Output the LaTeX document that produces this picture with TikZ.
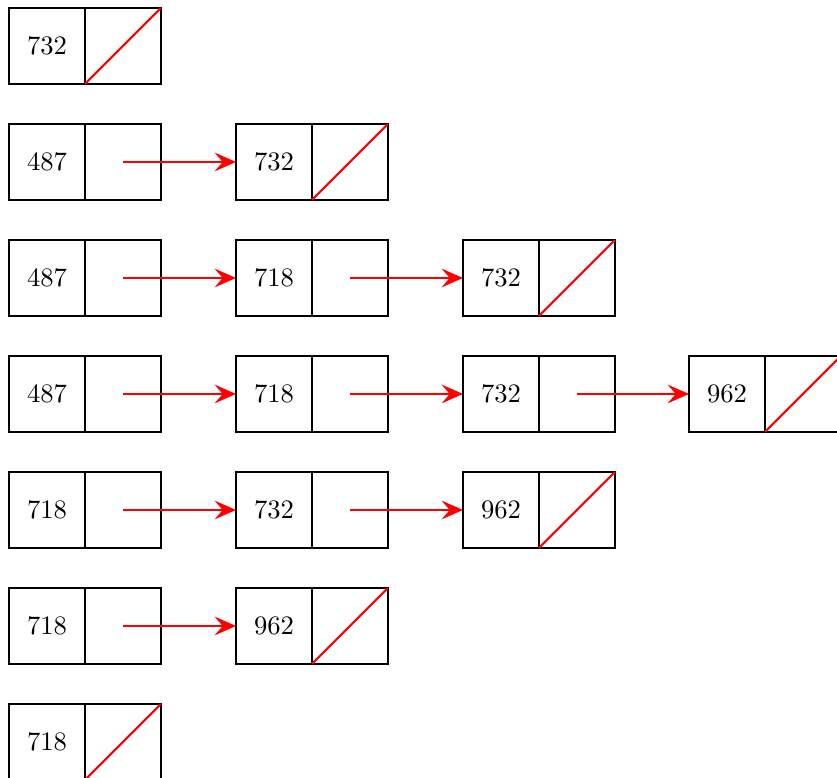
\documentclass[tikz,border=0pt]{standalone}
\usetikzlibrary{arrows.meta}
% one list element: a value cell and its pointer cell to the right
\newcommand\listelem[4]{%
  \node[cell] (#1v) at (#2,#3) {#4};
  \node[cell,xshift=28.55pt] (#1p) at (#1v.center) {};
}
% a null pointer: the pointer cell is struck through
\newcommand\nullptr[1]{\draw[nil] (#1p.south west) -- (#1p.north east);}
\begin{document}
\begin{tikzpicture}[x=0.3757pt,y=-0.3757pt,
  cell/.style={draw,line width=0.8pt,minimum size=28.55pt,inner sep=0pt,outer sep=0pt},
  link/.style={red,line width=0.8pt,-{Stealth[length=8pt,width=7pt,inset=3pt]}},
  nil/.style={red,line width=0.8pt}]
\useasboundingbox (0,0) rectangle (837,778);

% row 1
\listelem{a1}{47}{46}{732}
\nullptr{a1}

% row 2
\listelem{b1}{47}{162}{487}
\listelem{b2}{274}{162}{732}
\nullptr{b2}
\draw[link] (b1p.center) -- (b2v.west);

% row 3
\listelem{c1}{47}{278}{487}
\listelem{c2}{274}{278}{718}
\listelem{c3}{501}{278}{732}
\nullptr{c3}
\draw[link] (c1p.center) -- (c2v.west);
\draw[link] (c2p.center) -- (c3v.west);

% row 4
\listelem{d1}{47}{394}{487}
\listelem{d2}{274}{394}{718}
\listelem{d3}{501}{394}{732}
\listelem{d4}{727}{394}{962}
\nullptr{d4}
\draw[link] (d1p.center) -- (d2v.west);
\draw[link] (d2p.center) -- (d3v.west);
\draw[link] (d3p.center) -- (d4v.west);

% row 5
\listelem{e1}{47}{510}{718}
\listelem{e2}{274}{510}{732}
\listelem{e3}{501}{510}{962}
\nullptr{e3}
\draw[link] (e1p.center) -- (e2v.west);
\draw[link] (e2p.center) -- (e3v.west);

% row 6
\listelem{f1}{47}{626}{718}
\listelem{f2}{274}{626}{962}
\nullptr{f2}
\draw[link] (f1p.center) -- (f2v.west);

% row 7
\listelem{g1}{47}{742}{718}
\nullptr{g1}
\end{tikzpicture}
\end{document}
